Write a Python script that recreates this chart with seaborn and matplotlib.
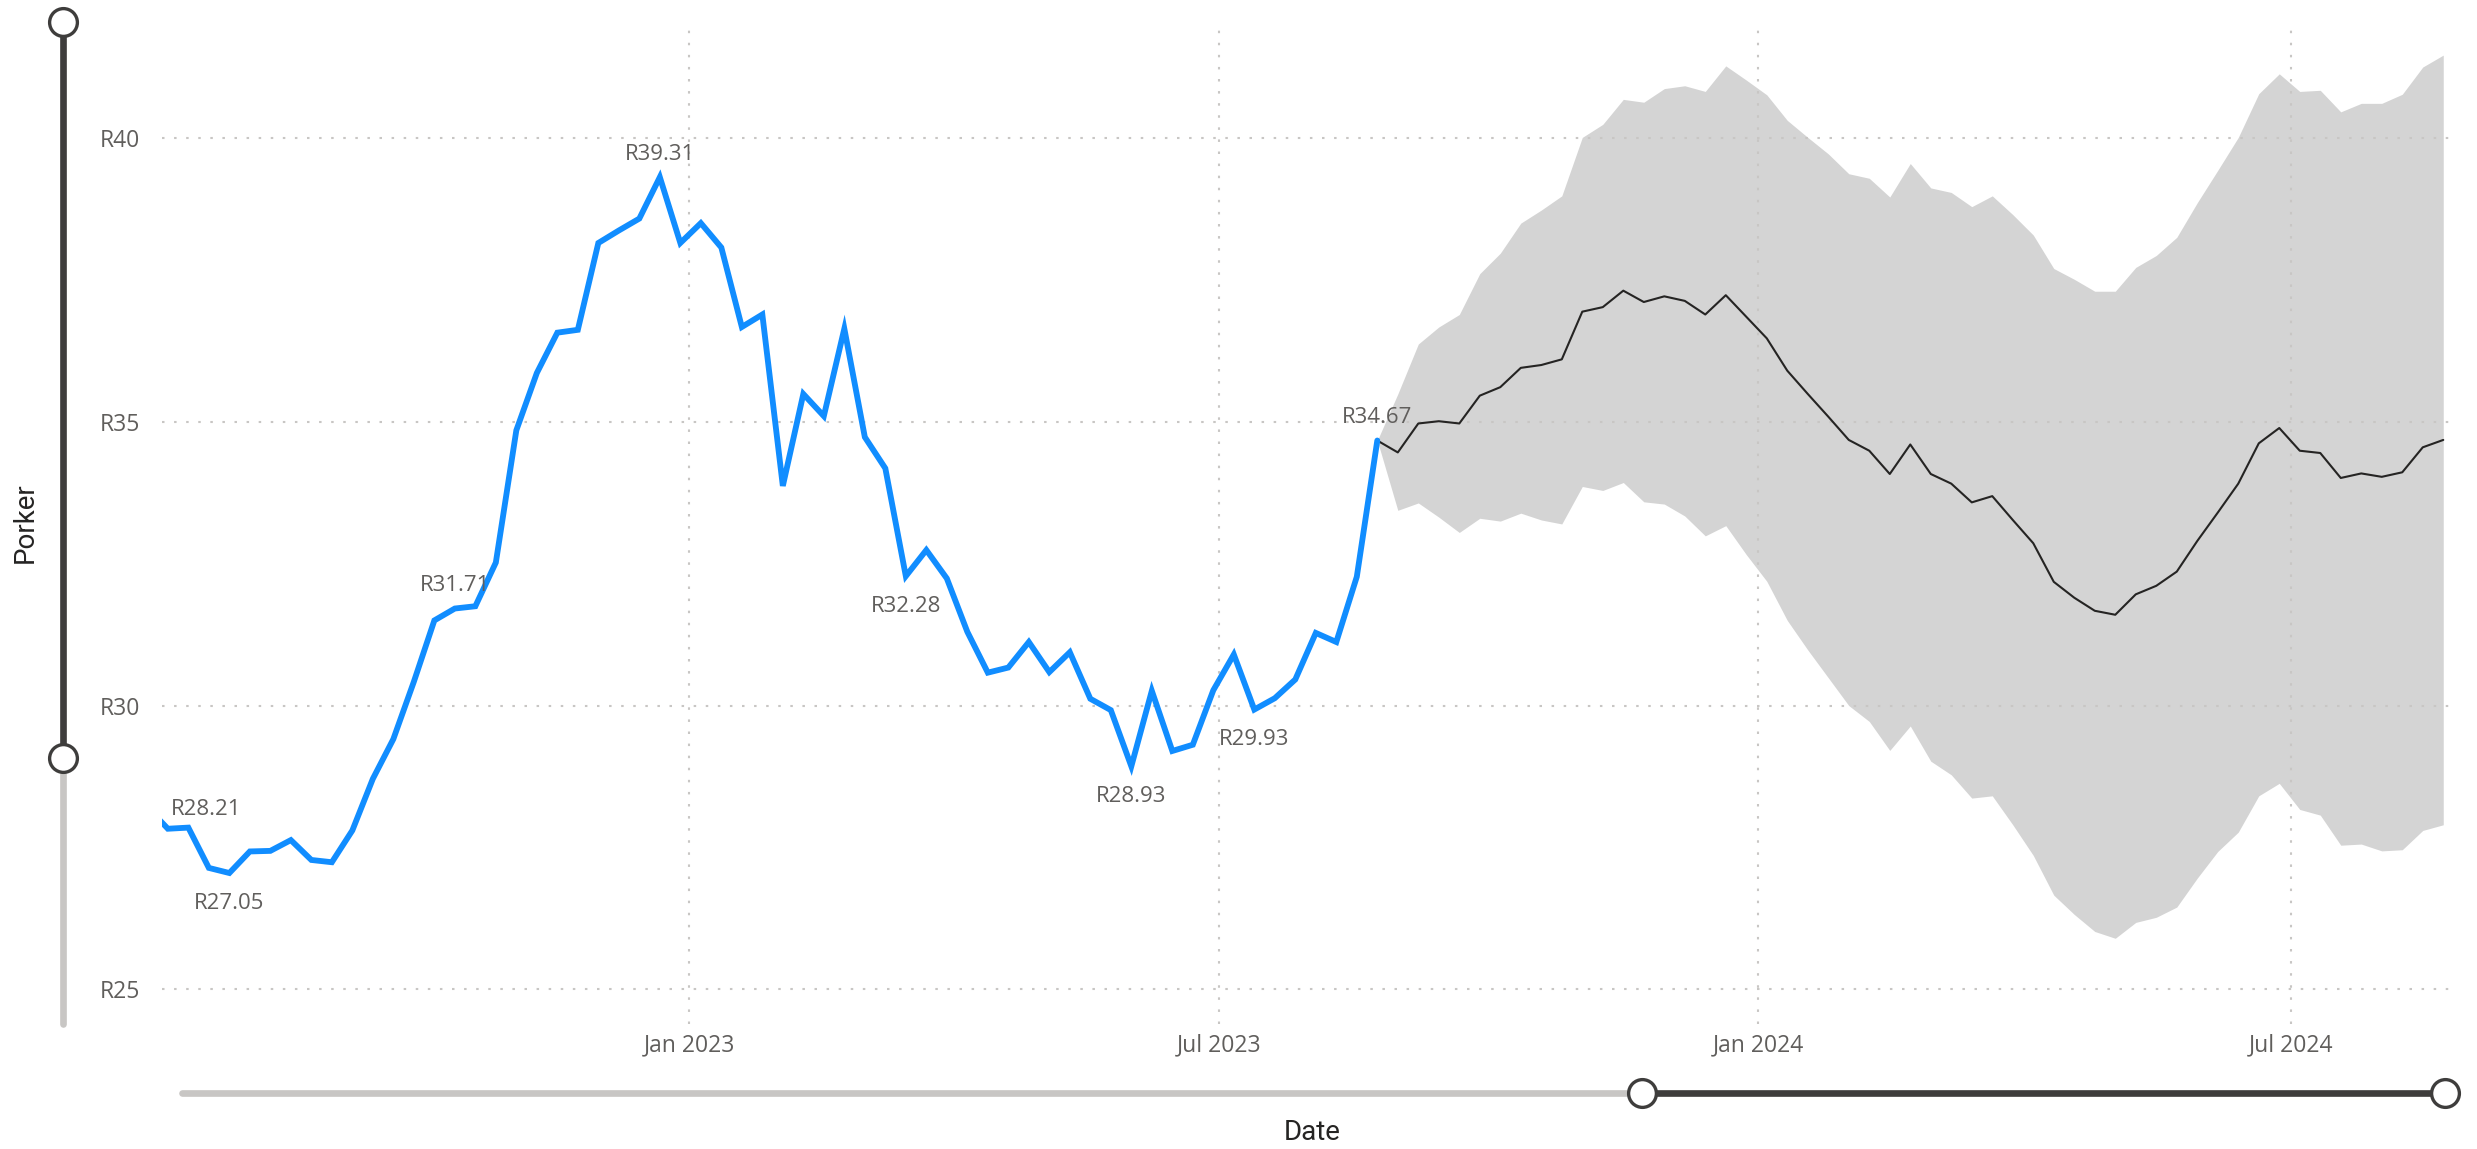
import pandas as pd
import numpy as np
import matplotlib.pyplot as plt
from matplotlib.ticker import FuncFormatter
import seaborn as sns

# Weekly actual prices (Thursdays), first point sits just left of the visible range
actual_start = '2022-06-30'
actual_prices = [28.21, 27.83, 27.85, 27.14, 27.05, 27.43, 27.44, 27.63, 27.28, 27.24,
                 27.80, 28.71, 29.41, 30.42, 31.50, 31.71, 31.75, 32.52, 34.85, 35.86,
                 36.57, 36.62, 38.15, 38.37, 38.58, 39.31, 38.15, 38.50, 38.07, 36.67,
                 36.89, 33.87, 35.49, 35.10, 36.64, 34.73, 34.18, 32.28, 32.74, 32.24,
                 31.30, 30.58, 30.67, 31.12, 30.59, 30.94, 30.12, 29.92, 28.93, 30.26,
                 29.20, 29.31, 30.27, 30.90, 29.93, 30.13, 30.46, 31.28, 31.12, 32.27,
                 34.67]

# Forecast (starts at last actual point)
forecast_start = '2023-08-24'
forecast_mid = [34.67, 34.46, 34.97, 35.01, 34.97, 35.46, 35.61, 35.95, 36.00, 36.10,
                36.94, 37.02, 37.31, 37.11, 37.21, 37.13, 36.89, 37.23, 36.85, 36.47,
                35.90, 35.49, 35.09, 34.68, 34.49, 34.08, 34.60, 34.08, 33.91, 33.58,
                33.69, 33.27, 32.86, 32.18, 31.90, 31.67, 31.60, 31.96, 32.11, 32.36,
                32.90, 33.40, 33.91, 34.62, 34.89, 34.49, 34.45, 34.01, 34.09, 34.03,
                34.11, 34.55, 34.68]
forecast_upper = [34.67, 35.49, 36.37, 36.67, 36.89, 37.61, 37.97, 38.50, 38.73, 38.98,
                  40.01, 40.24, 40.68, 40.63, 40.87, 40.92, 40.82, 41.27, 41.02, 40.76,
                  40.31, 40.01, 39.72, 39.37, 39.29, 38.96, 39.55, 39.12, 39.04, 38.79,
                  38.98, 38.65, 38.29, 37.70, 37.51, 37.30, 37.30, 37.72, 37.93, 38.25,
                  38.86, 39.43, 40.01, 40.78, 41.13, 40.82, 40.84, 40.46, 40.61, 40.61,
                  40.77, 41.25, 41.46]
forecast_lower = [34.67, 33.44, 33.57, 33.32, 33.05, 33.30, 33.25, 33.39, 33.27, 33.20,
                  33.86, 33.79, 33.93, 33.59, 33.55, 33.34, 32.99, 33.17, 32.66, 32.19,
                  31.50, 30.98, 30.49, 30.00, 29.72, 29.21, 29.64, 29.02, 28.78, 28.37,
                  28.41, 27.90, 27.36, 26.66, 26.32, 26.02, 25.90, 26.18, 26.27, 26.45,
                  26.96, 27.43, 27.77, 28.41, 28.63, 28.17, 28.07, 27.54, 27.56, 27.44,
                  27.46, 27.80, 27.90]

y_ticks = [25, 30, 35, 40]
x_ticks = ['2023-01-01', '2023-07-01', '2024-01-01', '2024-07-01']
x_tick_labels = ['Jan 2023', 'Jul 2023', 'Jan 2024', 'Jul 2024']

# data labels: index into actual series and where the label sits
label_idx = [0, 4, 15, 25, 37, 48, 54, 60]
label_side = ['right', 'below', 'above', 'above', 'below', 'below', 'below', 'above']

actual = pd.DataFrame({'Date': pd.date_range(actual_start, periods=len(actual_prices), freq='7D'),
                       'Porker': actual_prices})
forecast = pd.DataFrame({'Date': pd.date_range(forecast_start, periods=len(forecast_mid), freq='7D'),
                         'mid': forecast_mid, 'upper': forecast_upper, 'lower': forecast_lower})

sns.set_style('white')
plt.rcParams['font.family'] = ['Open Sans', 'DejaVu Sans']

W, H = 2477, 1149
fig = plt.figure(figsize=(W / 100, H / 100), dpi=100)
ax_l, ax_r, ax_t, ax_b = 162, 2454, 29, 1024
ax = fig.add_axes([ax_l / W, 1 - ax_b / H, (ax_r - ax_l) / W, (ax_b - ax_t) / H])

grey_text = '#605E5C'
dark = '#3E3D3C'

# forecast band and line
ax.fill_between(forecast['Date'], forecast['lower'], forecast['upper'],
                color='#D4D4D4', linewidth=0, zorder=0.3)
sns.lineplot(data=forecast, x='Date', y='mid', ax=ax, color='#252423', linewidth=1.5, zorder=2)

# actuals
sns.lineplot(data=actual, x='Date', y='Porker', ax=ax, color='#118DFF', linewidth=4.2,
             zorder=3, solid_joinstyle='miter')

ax.set_xlim(pd.Timestamp('2022-07-05'), pd.Timestamp('2024-08-25 16:00'))
ax.set_ylim(24.39, 41.92)
ax.set_yticks(y_ticks)
ax.yaxis.set_major_formatter(FuncFormatter(lambda v, p: f'R{v:.0f}'))
ax.set_xticks(pd.to_datetime(x_ticks))
ax.set_xticklabels(x_tick_labels)
ax.tick_params(axis='both', length=0, labelsize=16.5, labelcolor=grey_text)
ax.tick_params(axis='y', pad=16)
ax.tick_params(axis='x', pad=7)

ax.set_axisbelow(True)
ax.grid(True, color='#C8C6C4', linestyle=(0, (1.2, 4.6)), linewidth=1.5)
sns.despine(ax=ax, left=True, bottom=True)

offsets = {'above': (0, 23), 'below': (0, -30), 'right': (59, -2)}
for i, side in zip(label_idx, label_side):
    ax.annotate(f'R{actual_prices[i]:.2f}', xy=(actual['Date'][i], actual_prices[i]),
                xytext=offsets[side], textcoords='offset pixels', ha='center', va='center',
                fontsize=16, color=grey_text, annotation_clip=False, zorder=4)

ax.set_ylabel('Porker', family='Roboto', fontsize=20, color='#252423', va='center')
ax.yaxis.set_label_coords((25 - ax_l) / (ax_r - ax_l), (ax_b - 523) / (ax_b - ax_t))
ax.set_xlabel('Date', family='Roboto', fontsize=20, color='#252423', va='center')
ax.xaxis.set_label_coords((1312 - ax_l) / (ax_r - ax_l), (ax_b - 1132) / (ax_b - ax_t))

# zoom sliders (decoration, in figure pixels)
ov = fig.add_axes([0, 0, 1, 1], facecolor='none')
ov.set_xlim(0, W)
ov.set_ylim(H, 0)
ov.axis('off')
slider_lw = 4.8
ov.plot([63, 63], [758, 1024], color='#C8C6C4', lw=slider_lw, solid_capstyle='round')
ov.plot([63, 63], [22, 758], color=dark, lw=slider_lw, solid_capstyle='round')
ov.plot([182, 1642], [1093, 1093], color='#C8C6C4', lw=slider_lw, solid_capstyle='round')
ov.plot([1642, 2445], [1093, 1093], color=dark, lw=slider_lw, solid_capstyle='round')
ov.plot([63, 63, 1642, 2445], [22, 758, 1093, 1093], linestyle='none', marker='o',
        markersize=20, markerfacecolor='white', markeredgecolor=dark, markeredgewidth=2.4)

fig.savefig('out.png', dpi=100)
